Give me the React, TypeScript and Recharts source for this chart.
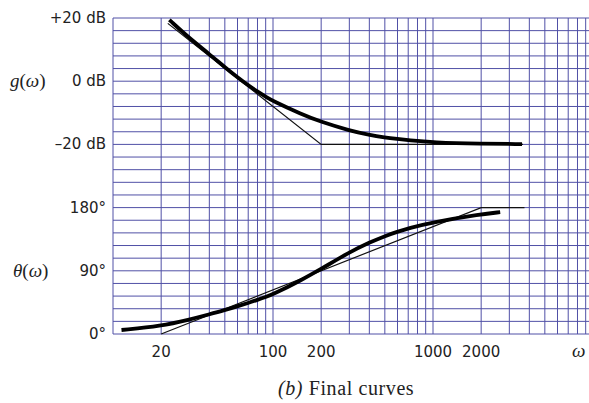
import React from 'react';
import { LineChart, Line, XAxis, YAxis, CartesianGrid } from 'recharts';

// magnitude curve (omega, dB)
const magW = [22.5, 30, 40, 50, 60, 70, 80, 90, 100, 150, 200, 300, 400, 500, 600, 700, 1000, 2000, 3600];
const magDb = [19.4, 13.6, 8.6, 4.4, 1.2, -1.3, -3.3, -4.9, -6.3, -10.4, -12.9, -15.6, -17.0, -17.8, -18.3, -18.7, -19.4, -19.8, -19.9];

// magnitude asymptotes
const magAsymW = [22, 200, 3650];
const magAsymDb = [18.3, -20, -20];

// phase curve (omega, degrees)
const phaseW = [11.3, 20, 30, 40, 50, 60, 70, 80, 90, 100, 147, 200, 300, 400, 500, 600, 700, 1000, 2000, 2630];
const phaseDeg = [5.7, 11.4, 20.5, 28, 34, 39.5, 44.2, 48.6, 52.6, 56.5, 75.5, 92.6, 116.4, 130.2, 139.5, 145.6, 150.4, 159.2, 170.6, 173.5];

// phase asymptotes
const phaseAsymW = [20, 2000, 3730];
const phaseAsymDeg = [0, 180, 180];

// grid: log decades 10..10000
const xGrid = [10, 20, 30, 40, 50, 60, 70, 80, 90, 100, 200, 300, 400, 500, 600, 700, 800, 900,
  1000, 2000, 3000, 4000, 5000, 6000, 7000, 8000, 9000, 10000];
const xLabels: Record<number, string> = { 20: '20', 100: '100', 200: '200', 1000: '1000', 2000: '2000' };

// shared vertical scale: 25 rows; dB rows are 4 dB, degree rows are 18°
const yGrid = Array.from({ length: 26 }, (_, i) => i);
const yLabels: Record<number, string> = { 25: '+20 dB', 20: '0 dB', 15: '\u201320 dB', 10: '180°', 5: '90°', 0: '0°' };

const dbToU = (db: number) => 20 + db / 4;
const degToU = (deg: number) => deg / 18;

const magData = magW.map((w, i) => ({ w, u: dbToU(magDb[i]) }));
const magAsym = magAsymW.map((w, i) => ({ w, u: dbToU(magAsymDb[i]) }));
const phaseData = phaseW.map((w, i) => ({ w, u: degToU(phaseDeg[i]) }));
const phaseAsym = phaseAsymW.map((w, i) => ({ w, u: degToU(phaseAsymDeg[i]) }));

const LABEL_FONT = '"DejaVu Sans", sans-serif';
const SERIF = '"Liberation Serif", "DejaVu Serif", serif';

const XTick = (props: any) => {
  const label = xLabels[props.payload.value];
  if (!label) return <g />;
  return (
    <text x={props.x} y={357} textAnchor="middle" fontSize={15} fontFamily={LABEL_FONT} fill="#222">
      {label}
    </text>
  );
};

const YTick = (props: any) => {
  const label = yLabels[props.payload.value];
  if (!label) return <g />;
  return (
    <text x={106} y={props.y} textAnchor="end" dominantBaseline="central" fontSize={15} fontFamily={LABEL_FONT} fill="#222">
      {label}
    </text>
  );
};

export default function App() {
  return (
    <div style={{ position: 'fixed', left: 0, top: 0, width: 589, height: 403, overflow: 'hidden', background: '#fff' }}>
      <LineChart width={600} height={403} margin={{ top: 18, right: 7, left: 0, bottom: 0 }}>
        <CartesianGrid stroke="#5050a6" strokeWidth={1} />
        <XAxis
          dataKey="w"
          type="number"
          scale="log"
          domain={[10, 10000]}
          allowDataOverflow
          ticks={xGrid}
          interval={0}
          axisLine={false}
          tickLine={false}
          height={69}
          tick={<XTick />}
        />
        <YAxis
          type="number"
          domain={[0, 25]}
          ticks={yGrid}
          interval={0}
          axisLine={false}
          tickLine={false}
          width={113}
          tick={<YTick />}
        />
        <Line data={magAsym} dataKey="u" type="linear" stroke="#111" strokeWidth={1.2} dot={false} isAnimationActive={false} />
        <Line data={phaseAsym} dataKey="u" type="linear" stroke="#111" strokeWidth={1.2} dot={false} isAnimationActive={false} />
        <Line data={magData} dataKey="u" type="basis" stroke="#000" strokeWidth={3.8} dot={false} isAnimationActive={false} />
        <Line data={phaseData} dataKey="u" type="basis" stroke="#000" strokeWidth={3.8} dot={false} isAnimationActive={false} />
      </LineChart>
      <div style={{ position: 'absolute', left: 10, top: 70, fontFamily: SERIF, fontSize: 19, color: '#222' }}>
        <i>g</i>(<i>ω</i>)
      </div>
      <div style={{ position: 'absolute', left: 13, top: 260, fontFamily: SERIF, fontSize: 19, color: '#222' }}>
        <i>θ</i>(<i>ω</i>)
      </div>
      <div style={{ position: 'absolute', left: 572, top: 340, fontFamily: SERIF, fontSize: 19, color: '#222' }}>
        <i>ω</i>
      </div>
      <div style={{ position: 'absolute', left: 278, top: 377, fontFamily: SERIF, fontSize: 20, letterSpacing: 0.6, color: '#222', whiteSpace: 'nowrap' }}>
        <i>(b)</i> Final curves
      </div>
    </div>
  );
}
